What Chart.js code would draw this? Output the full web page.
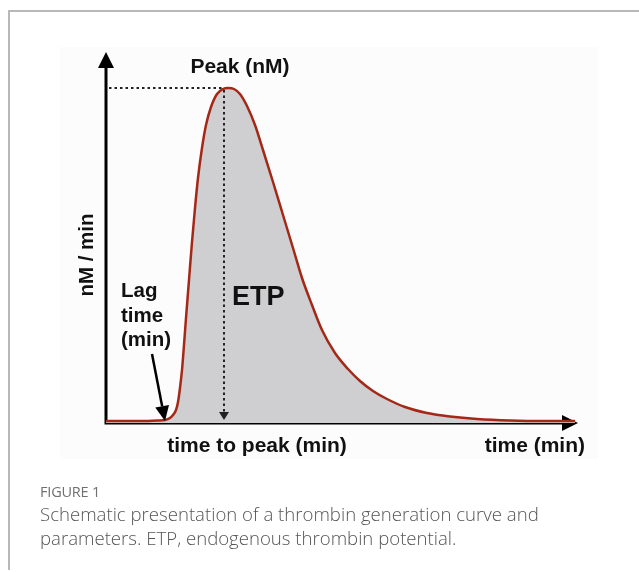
<!DOCTYPE html>
<html><head><meta charset="utf-8">
<script src="https://cdn.jsdelivr.net/npm/chart.js@4.4.1/dist/chart.umd.min.js"></script>
<style>
html,body{margin:0;padding:0;background:#fff;width:639px;height:572px;overflow:hidden}
#frame{position:absolute;left:8px;top:10px;width:640px;height:558px;border-top:2px solid #b8b8b8;border-left:2px solid #b8b8b8}
#wrap{position:absolute;left:0;top:0;width:639px;height:572px}
#fig{position:absolute;left:40px;top:482px;font-family:"Open Sans";color:#707070;font-size:14.5px;letter-spacing:-0.2px}
#cap{position:absolute;left:40px;top:502px;font-family:"Open Sans";font-weight:300;color:#555;font-size:18.6px;line-height:24px;width:590px;white-space:nowrap}
</style></head>
<body>
<div id="frame"></div>
<div id="wrap"><canvas id="c" width="639" height="572"></canvas></div>
<div id="fig">FIGURE 1</div>
<div id="cap">Schematic presentation of a thrombin generation curve and<br>parameters. ETP, endogenous thrombin potential.</div>
<script>
// Thrombin generation curve (schematic)
const timeMin = [0, 3.4, 5.2, 5.9, 6.4, 6.7, 7.0, 7.2, 7.4, 7.6, 7.8, 8.0, 8.3, 8.6, 8.9, 9.2, 9.6, 10.0, 10.5, 11.1, 11.7, 12.2, 12.8, 13.4, 14.1, 14.9, 15.7, 16.7, 17.7, 18.7, 19.6, 20.6, 21.6, 22.9, 24.2, 25.4, 26.7, 28.1, 29.9, 32.1, 34.4, 37.1, 40.4, 43.9, 46.9];
const thrombinNM = [2, 2, 2.5, 3, 5, 8, 13, 21, 35, 53, 78, 105, 143, 181, 215, 245, 275, 298, 316, 329, 334, 335, 334, 329, 317, 298, 273, 241, 208, 175, 145, 118, 93, 70, 54, 42, 32, 24, 16, 10, 6.5, 4, 2.5, 2, 2];
const peakTime = 11.8;
const peakValue = 335;
const xAxisMax = 47.2;
const yAxisMax = 371;
const textPeak = 'Peak (nM)';
const textYAxis = 'nM / min';
const textLag = ['Lag', 'time', '(min)'];
const textETP = 'ETP';
const textTTP = 'time to peak (min)';
const textXAxis = 'time (min)';

const points = timeMin.map((t, i) => ({x: t, y: thrombinNM[i]}));
const FONT = '"Liberation Sans", Arial, sans-serif';

function tri(ctx, pts) {
  ctx.beginPath();
  ctx.moveTo(pts[0][0], pts[0][1]);
  ctx.lineTo(pts[1][0], pts[1][1]);
  ctx.lineTo(pts[2][0], pts[2][1]);
  ctx.closePath();
  ctx.fill();
}

const decor = {
  id: 'decor',
  beforeDraw(chart) {
    const ctx = chart.ctx;
    ctx.save();
    ctx.fillStyle = '#fcfcfc';
    ctx.fillRect(60, 47, 538, 412);
    ctx.restore();
  },
  beforeDatasetsDraw(chart) {
    const ctx = chart.ctx, xs = chart.scales.x, ys = chart.scales.y;
    const x0 = xs.getPixelForValue(0), y0 = ys.getPixelForValue(0);
    const xEnd = xs.getPixelForValue(xAxisMax), yTop = ys.getPixelForValue(yAxisMax);
    ctx.save();
    ctx.strokeStyle = '#000'; ctx.fillStyle = '#000'; ctx.lineWidth = 3;
    ctx.beginPath();
    ctx.moveTo(x0, yTop + 14); ctx.lineTo(x0, y0 + 1.5);
    ctx.moveTo(x0 - 1.5, y0); ctx.lineTo(xEnd - 14, y0);
    ctx.stroke();
    tri(ctx, [[x0, yTop], [x0 - 8, yTop + 16], [x0 + 8, yTop + 16]]);
    tri(ctx, [[xEnd, y0], [xEnd - 16, y0 - 8], [xEnd - 16, y0 + 8]]);
    ctx.restore();
  },
  afterDatasetsDraw(chart) {
    const ctx = chart.ctx, xs = chart.scales.x, ys = chart.scales.y;
    const x0 = xs.getPixelForValue(0), y0 = ys.getPixelForValue(0);
    const px = xs.getPixelForValue(peakTime), py = ys.getPixelForValue(peakValue);
    ctx.save();
    // dotted guides
    ctx.strokeStyle = '#222'; ctx.fillStyle = '#222'; ctx.lineWidth = 2;
    ctx.setLineDash([2.5, 3]);
    ctx.beginPath();
    ctx.moveTo(x0 + 3, py); ctx.lineTo(px, py);
    ctx.moveTo(px, py + 2); ctx.lineTo(px, y0 - 10);
    ctx.stroke();
    ctx.setLineDash([]);
    tri(ctx, [[px, y0 - 3], [px - 5, y0 - 11], [px + 5, y0 - 11]]);
    // lag time arrow
    ctx.strokeStyle = '#000'; ctx.fillStyle = '#000'; ctx.lineWidth = 2.5;
    const ax1 = 152, ay1 = 354, ax2 = 165, ay2 = 421;
    const ang = Math.atan2(ay2 - ay1, ax2 - ax1);
    const hl = 15, hw = 7;
    const bx = ax2 - hl * Math.cos(ang), by = ay2 - hl * Math.sin(ang);
    ctx.beginPath(); ctx.moveTo(ax1, ay1); ctx.lineTo(bx, by); ctx.stroke();
    tri(ctx, [[ax2, ay2], [bx - hw * Math.sin(ang), by + hw * Math.cos(ang)], [bx + hw * Math.sin(ang), by - hw * Math.cos(ang)]]);
    // texts
    ctx.fillStyle = '#111';
    ctx.textBaseline = 'alphabetic';
    ctx.font = 'bold 21px ' + FONT;
    ctx.textAlign = 'center';
    ctx.fillText(textPeak, 240, 73);
    ctx.fillText(textTTP, 257, 452);
    ctx.textAlign = 'right';
    ctx.fillText(textXAxis, 585, 452);
    ctx.textAlign = 'left';
    ctx.font = 'bold 20.5px ' + FONT;
    ctx.fillText(textLag[0], 121, 297);
    ctx.fillText(textLag[1], 121, 322);
    ctx.fillText(textLag[2], 121, 346);
    ctx.font = 'bold 27px ' + FONT;
    ctx.fillText(textETP, 232, 305);
    ctx.save();
    ctx.translate(87, 255);
    ctx.rotate(-Math.PI / 2);
    ctx.textAlign = 'center';
    ctx.textBaseline = 'middle';
    ctx.font = 'bold 20.5px ' + FONT;
    ctx.fillText(textYAxis, 0, 0);
    ctx.restore();
    ctx.restore();
  }
};

new Chart(document.getElementById('c'), {
  type: 'line',
  data: {
    datasets: [{
      data: points,
      borderColor: '#a52817',
      borderWidth: 2.5,
      backgroundColor: '#cfcfd1',
      fill: 'origin',
      pointRadius: 0,
      cubicInterpolationMode: 'monotone'
    }]
  },
  options: {
    responsive: false,
    animation: false,
    events: [],
    layout: {padding: {left: 106, right: 61, top: 52, bottom: 149}},
    plugins: {legend: {display: false}, tooltip: {enabled: false}},
    scales: {
      x: {type: 'linear', min: 0, max: xAxisMax, display: false},
      y: {min: 0, max: yAxisMax, display: false}
    }
  },
  plugins: [decor]
});
</script>
</body></html>
